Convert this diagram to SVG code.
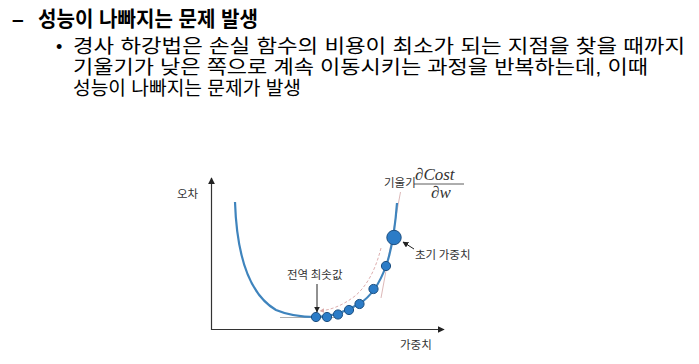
<svg xmlns="http://www.w3.org/2000/svg" width="699" height="364" viewBox="0 0 699 364">
<defs>
<style>
.t{font-family:"Liberation Sans","Noto Sans CJK KR",sans-serif;fill:#000}
.lbl{font-family:"Noto Sans CJK KR","Liberation Sans",sans-serif;fill:#333;font-size:11.5px}
.m{font-family:"Liberation Serif",serif;font-style:italic;fill:#333;font-size:17px}
.dot{fill:#2c7cc7;stroke:#1d4f80;stroke-width:1}
</style>
<marker id="ah" viewBox="0 0 10 10" refX="9" refY="5" markerWidth="6" markerHeight="6" orient="auto"><path d="M0,0 L10,5 L0,10 z" fill="#222"/></marker>
<marker id="ahp" viewBox="0 0 10 10" refX="9" refY="5" markerWidth="5" markerHeight="5" orient="auto"><path d="M0,0 L10,5 L0,10 z" fill="#d9a5a5"/></marker>
</defs>
<rect width="699" height="364" fill="#fff"/>
<g id="text">
<text class="t" x="12" y="26" font-size="21" font-weight="bold">–</text>
<text class="t" x="38" y="26" font-size="21" font-weight="bold" textLength="220" lengthAdjust="spacingAndGlyphs">성능이 나빠지는 문제 발생</text>
<text class="t" x="56" y="53" font-size="18">•</text>
<text class="t" x="73" y="53" font-size="19" textLength="612" lengthAdjust="spacingAndGlyphs">경사 하강법은 손실 함수의 비용이 최소가 되는 지점을 찾을 때까지</text>
<text class="t" x="73" y="74" font-size="19" textLength="575" lengthAdjust="spacingAndGlyphs">기울기가 낮은 쪽으로 계속 이동시키는 과정을 반복하는데, 이때</text>
<text class="t" x="73" y="95" font-size="19" textLength="228" lengthAdjust="spacingAndGlyphs">성능이 나빠지는 문제가 발생</text>
</g>
<g id="connectors" fill="none">
<line x1="211.5" y1="330" x2="211.5" y2="178" stroke="#333" stroke-width="1.2" marker-end="url(#ah)"/>
<line x1="211" y1="329.5" x2="444" y2="329.5" stroke="#333" stroke-width="1.2" marker-end="url(#ah)"/>
<line x1="280" y1="317.5" x2="342" y2="317.5" stroke="#999" stroke-width="0.8"/>
<line x1="400.5" y1="192" x2="381" y2="298" stroke="#d8b0b0" stroke-width="0.9"/>
<path d="M381,248 C376,268 368,285 355,296 C342,306 330,310 320,311" stroke="#d9a5a5" stroke-width="0.9" stroke-dasharray="3,2" marker-end="url(#ahp)"/>
<path d="M235,202 C237,262 252,296 276,310 C290,316 303,317 316,317 C330,317 345,312 359,304 C372,296 381,280 386,266 C391,252 395,230 397,203" stroke="#3f84bd" stroke-width="2.2"/>
<line x1="317" y1="284" x2="317" y2="312" stroke="#222" stroke-width="1" marker-end="url(#ah)"/>
<line x1="414" y1="249" x2="403" y2="242" stroke="#222" stroke-width="1" marker-end="url(#ah)"/>
<line x1="414" y1="184" x2="464" y2="184" stroke="#333" stroke-width="0.8"/>
</g>
<g id="dots">
<circle class="dot" cx="316" cy="317" r="4.6"/>
<circle class="dot" cx="327" cy="317" r="4.6"/>
<circle class="dot" cx="338" cy="314.5" r="4.6"/>
<circle class="dot" cx="349" cy="310" r="4.6"/>
<circle class="dot" cx="359.5" cy="304" r="4.6"/>
<circle class="dot" cx="373.5" cy="289" r="4.6"/>
<circle class="dot" cx="386" cy="266" r="4.6"/>
<circle class="dot" cx="394" cy="237.5" r="7.2"/>
</g>
<g id="labels">
<text class="lbl" x="177" y="198">오차</text>
<text class="lbl" x="400" y="349">가중치</text>
<text class="lbl" x="287" y="279">전역 최솟값</text>
<text class="lbl" x="415" y="259">초기 가중치</text>
<text class="lbl" x="384" y="187">기울기</text>
<text class="m" x="415" y="180">∂Cost</text>
<text class="m" x="431" y="198">∂w</text>
</g>
</svg>
